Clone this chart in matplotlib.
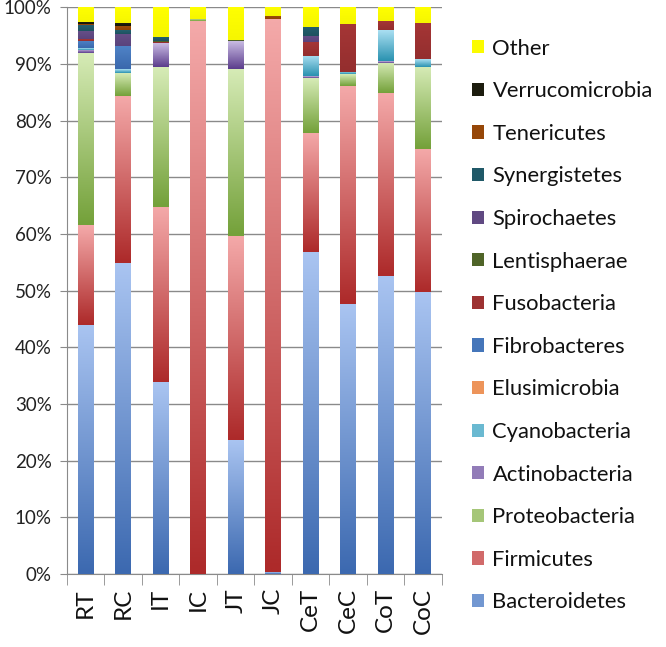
import numpy as np
import matplotlib.pyplot as plt
from matplotlib.patches import Patch
from matplotlib.colors import to_rgb

samples = ['RT', 'RC', 'IT', 'IC', 'JT', 'JC', 'CeT', 'CeC', 'CoT', 'CoC']

phyla = ['Bacteroidetes', 'Firmicutes', 'Proteobacteria', 'Actinobacteria',
         'Cyanobacteria', 'Elusimicrobia', 'Fibrobacteres', 'Fusobacteria',
         'Lentisphaerae', 'Spirochaetes', 'Synergistetes', 'Tenericutes',
         'Verrucomicrobia', 'Other']

# percent of reads, one list per phylum, in sample order
bacteroidetes = [44.0, 54.8, 33.8, 0.0, 23.6, 0.3, 56.8, 47.6, 52.6, 49.7]
firmicutes = [17.5, 29.6, 31.0, 97.6, 36.0, 97.7, 21.0, 38.5, 32.3, 25.3]
proteobacteria = [30.4, 4.0, 24.7, 0.4, 29.5, 0.0, 9.7, 2.1, 5.3, 14.5]
actinobacteria = [0.6, 0.0, 4.2, 0.0, 4.9, 0.0, 0.3, 0.0, 0.3, 0.0]
cyanobacteria = [0.3, 0.7, 0.0, 0.0, 0.0, 0.0, 3.6, 0.4, 5.4, 1.3]
elusimicrobia = [0.0, 0.0, 0.0, 0.0, 0.0, 0.0, 0.0, 0.0, 0.0, 0.0]
fibrobacteres = [1.3, 4.0, 0.0, 0.0, 0.0, 0.0, 0.0, 0.0, 0.0, 0.0]
fusobacteria = [0.3, 0.0, 0.2, 0.0, 0.0, 0.0, 2.4, 8.5, 1.7, 6.4]
lentisphaerae = [0.0, 0.0, 0.2, 0.0, 0.3, 0.0, 0.0, 0.0, 0.0, 0.0]
spirochaetes = [1.4, 2.2, 0.0, 0.0, 0.0, 0.0, 1.1, 0.0, 0.0, 0.0]
synergistetes = [1.0, 0.7, 0.7, 0.0, 0.0, 0.0, 1.7, 0.0, 0.0, 0.0]
tenericutes = [0.2, 0.7, 0.0, 0.0, 0.0, 0.4, 0.0, 0.0, 0.0, 0.0]
verrucomicrobia = [0.4, 0.6, 0.0, 0.0, 0.0, 0.0, 0.0, 0.0, 0.0, 0.0]
other = [2.6, 2.7, 5.2, 2.0, 5.7, 1.6, 3.4, 2.9, 2.4, 2.8]

series = [bacteroidetes, firmicutes, proteobacteria, actinobacteria,
          cyanobacteria, elusimicrobia, fibrobacteres, fusobacteria,
          lentisphaerae, spirochaetes, synergistetes, tenericutes,
          verrucomicrobia, other]

# (top colour, bottom colour) of the excel style gradient fill
fills = [('#a9c4f1', '#3c69b0'), ('#f4a9a9', '#ad2a2a'),
         ('#d6ebb6', '#74a13a'), ('#c9bbe3', '#5b3d8c'),
         ('#aadff2', '#2a92b0'), ('#fabb8c', '#e06e28'),
         ('#4f83c6', '#3a68ad'), ('#a53636', '#942e2e'),
         ('#546a2c', '#4a5e24'), ('#664f88', '#5a437c'),
         ('#23606f', '#1d5260'), ('#9c4c0a', '#904205'),
         ('#222214', '#161608'), ('#ffff00', '#f6f600')]

plt.rcParams['font.family'] = ['Lato', 'DejaVu Sans']

fig = plt.figure(figsize=(6.66, 6.47), dpi=100)
ax = fig.add_axes([0.1006, 0.1128, 0.563, 0.876])

x = np.arange(len(samples))
bottom = np.zeros(len(samples))
width = 0.42
ramp = np.linspace(0, 1, 64)[:, None, None]

for vals, (top_c, bot_c) in zip(series, fills):
    vals = np.array(vals) / 100.0
    bars = ax.bar(x, vals, width, bottom=bottom, color=bot_c, linewidth=0, zorder=2)
    grad = np.array(to_rgb(top_c)) * (1 - ramp) + np.array(to_rgb(bot_c)) * ramp
    for b in bars:
        if b.get_height() <= 0:
            continue
        x0, y0 = b.get_x(), b.get_y()
        ax.imshow(grad, extent=[x0, x0 + b.get_width(), y0, y0 + b.get_height()],
                  aspect='auto', origin='upper', interpolation='bilinear', zorder=3)
    bottom += vals

ax.set_xlim(-0.5, len(samples) - 0.5)
ax.set_ylim(0, 1)

ax.set_yticks(np.arange(0, 1.01, 0.1))
ax.set_yticklabels([f'{int(round(v * 100))}%' for v in np.arange(0, 1.01, 0.1)])
ax.yaxis.grid(True, color='#8a8a8a', linewidth=1.0, zorder=0)
ax.set_axisbelow(True)

ax.set_xticks(x)
ax.set_xticklabels(samples, rotation=90)
ax.set_xticks(np.arange(-0.5, len(samples), 1), minor=True)
ax.tick_params(axis='x', which='major', length=0, pad=10, labelsize=17.5,
               labelcolor='#111111')
ax.tick_params(axis='x', which='minor', length=8, color='#8a8a8a')
ax.tick_params(axis='y', length=5, color='#8a8a8a', labelsize=13.5, pad=6,
               labelcolor='#222222')

for side in ['top', 'right']:
    ax.spines[side].set_visible(False)
for side in ['left', 'bottom']:
    ax.spines[side].set_color('#8a8a8a')


def mid(c1, c2):
    return tuple((np.array(to_rgb(c1)) + np.array(to_rgb(c2))) / 2)


handles = [Patch(facecolor=mid(*fills[i]), label=phyla[i])
           for i in range(len(phyla))][::-1]
fig.legend(handles=handles, loc='center left', bbox_to_anchor=(0.695, 0.497),
           frameon=False, fontsize=15.8, handlelength=0.55, handleheight=0.55,
           handletextpad=0.4, labelspacing=1.03, borderaxespad=0,
           labelcolor='#111111')

fig.savefig('out.png', dpi=100)
